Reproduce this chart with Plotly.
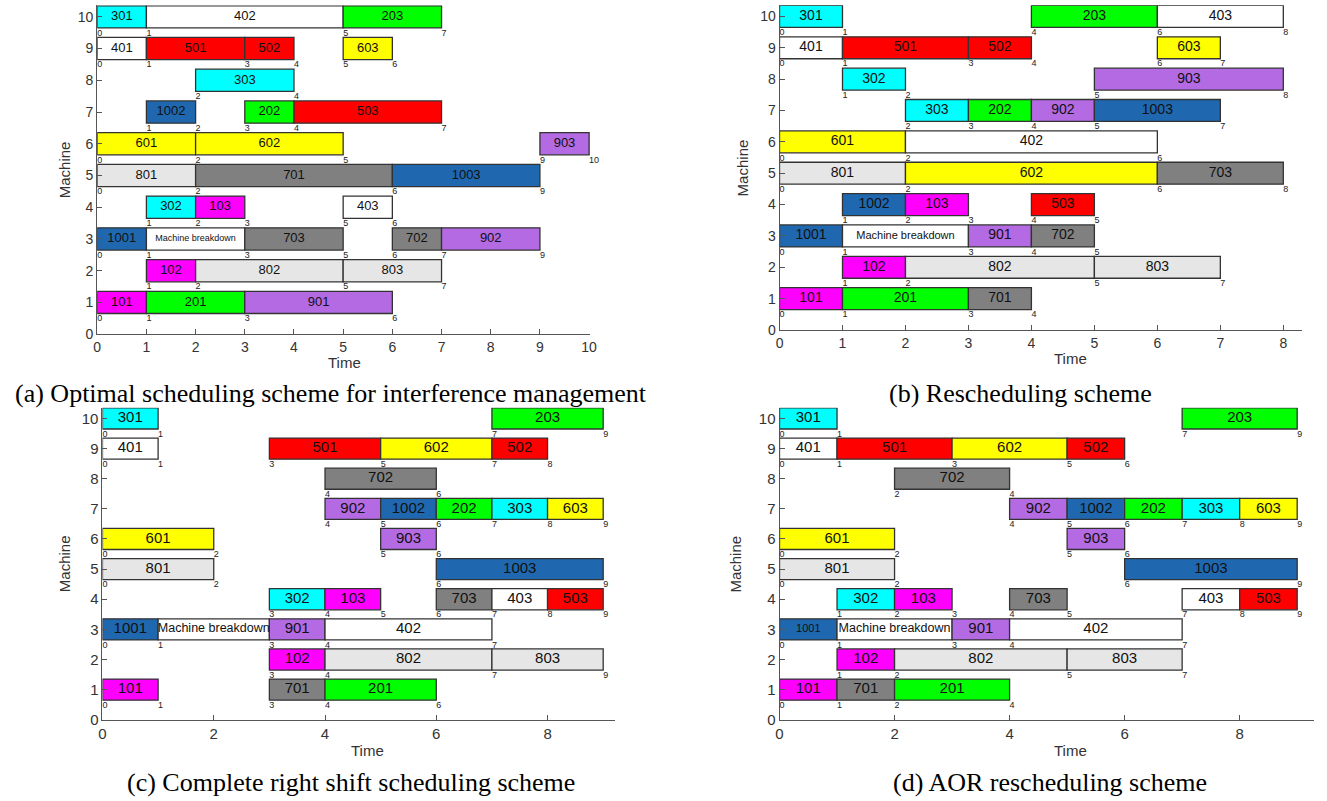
import plotly.graph_objects as go

# ---------------- data ----------------
# (a) Optimal scheduling scheme for interference management
a_machine = [10, 10, 10, 9, 9, 9, 9, 8, 7, 7, 7, 6, 6, 6, 5, 5, 5, 4, 4, 4, 3, 3, 3, 3, 3, 2, 2, 2, 1, 1, 1]
a_op = ["301", "402", "203", "401", "501", "502", "603", "303", "1002", "202", "503", "601", "602", "903",
        "801", "701", "1003", "302", "103", "403", "1001", "Machine breakdown", "703", "702", "902",
        "102", "802", "803", "101", "201", "901"]
a_start = [0, 1, 5, 0, 1, 3, 5, 2, 1, 3, 4, 0, 2, 9, 0, 2, 6, 1, 2, 5, 0, 1, 3, 6, 7, 1, 2, 5, 0, 1, 3]
a_end = [1, 5, 7, 1, 3, 4, 6, 4, 2, 4, 7, 2, 5, 10, 2, 6, 9, 2, 3, 6, 1, 3, 5, 7, 9, 2, 5, 7, 1, 3, 6]

# (b) Rescheduling scheme
b_machine = [10, 10, 10, 9, 9, 9, 9, 8, 8, 7, 7, 7, 7, 6, 6, 5, 5, 5, 4, 4, 4, 3, 3, 3, 3, 2, 2, 2, 1, 1, 1]
b_op = ["301", "203", "403", "401", "501", "502", "603", "302", "903", "303", "202", "902", "1003",
        "601", "402", "801", "602", "703", "1002", "103", "503", "1001", "Machine breakdown", "901", "702",
        "102", "802", "803", "101", "201", "701"]
b_start = [0, 4, 6, 0, 1, 3, 6, 1, 5, 2, 3, 4, 5, 0, 2, 0, 2, 6, 1, 2, 4, 0, 1, 3, 4, 1, 2, 5, 0, 1, 3]
b_end = [1, 6, 8, 1, 3, 4, 7, 2, 8, 3, 4, 5, 7, 2, 6, 2, 6, 8, 2, 3, 5, 1, 3, 4, 5, 2, 5, 7, 1, 3, 4]

# (c) Complete right shift scheduling scheme
c_machine = [10, 10, 9, 9, 9, 9, 8, 7, 7, 7, 7, 7, 6, 6, 5, 5, 4, 4, 4, 4, 4, 3, 3, 3, 3, 2, 2, 2, 1, 1, 1]
c_op = ["301", "203", "401", "501", "602", "502", "702", "902", "1002", "202", "303", "603",
        "601", "903", "801", "1003", "302", "103", "703", "403", "503",
        "1001", "Machine breakdown", "901", "402", "102", "802", "803", "101", "701", "201"]
c_start = [0, 7, 0, 3, 5, 7, 4, 4, 5, 6, 7, 8, 0, 5, 0, 6, 3, 4, 6, 7, 8, 0, 1, 3, 4, 3, 4, 7, 0, 3, 4]
c_end = [1, 9, 1, 5, 7, 8, 6, 5, 6, 7, 8, 9, 2, 6, 2, 9, 4, 5, 7, 8, 9, 1, 3, 4, 7, 4, 7, 9, 1, 4, 6]

# (d) AOR rescheduling scheme
d_machine = [10, 10, 9, 9, 9, 9, 8, 7, 7, 7, 7, 7, 6, 6, 5, 5, 4, 4, 4, 4, 4, 3, 3, 3, 3, 2, 2, 2, 1, 1, 1]
d_op = ["301", "203", "401", "501", "602", "502", "702", "902", "1002", "202", "303", "603",
        "601", "903", "801", "1003", "302", "103", "703", "403", "503",
        "1001", "Machine breakdown", "901", "402", "102", "802", "803", "101", "701", "201"]
d_start = [0, 7, 0, 1, 3, 5, 2, 4, 5, 6, 7, 8, 0, 5, 0, 6, 1, 2, 4, 7, 8, 0, 1, 3, 4, 1, 2, 5, 0, 1, 2]
d_end = [1, 9, 1, 3, 5, 6, 4, 5, 6, 7, 8, 9, 2, 6, 2, 9, 2, 3, 5, 8, 9, 1, 3, 4, 7, 2, 5, 7, 1, 2, 4]

captions = ["(a) Optimal scheduling scheme for interference management",
            "(b) Rescheduling scheme",
            "(c) Complete right shift scheduling scheme",
            "(d) AOR rescheduling scheme"]

# ---------------- style ----------------
W, H = 1327, 801
job_colors = {
    "1": "#FF00FF", "2": "#00FF00", "3": "#00FFFF", "4": "#FFFFFF", "5": "#FF0000",
    "6": "#FFFF00", "7": "#808080", "8": "#E6E6E6", "9": "#B36AE2", "10": "#1F68B0",
}
SANS = "Liberation Sans, Arial, sans-serif"
SERIF = "Liberation Serif, Times New Roman, serif"
AX = "#555555"
TXT = "#333333"

panels = [
    dict(x0=94, xs=49.6, xmax=10.02, y0=337.5, ys=32.05, step=1, f=13, fb=9, tf=14,
         timexy=(343, 366), machx=61, cap=(330, 397)),
    dict(x0=782, xs=63.5, xmax=8.3, y0=333.3, ys=31.67, step=1, f=14, fb=11, tf=14,
         timexy=(1075, 362), machx=745, cap=(1025, 397)),
    dict(x0=99.3, xs=56.1, xmax=9.22, y0=727, ys=30.43, step=2, f=15, fb=12.5, tf=15,
         timexy=(367, 758), machx=61, cap=(350, 790)),
    dict(x0=782, xs=58.0, xmax=9.3, y0=727, ys=30.43, step=2, f=15, fb=12.5, tf=15,
         timexy=(1075, 758), machx=738, cap=(1055, 790)),
]
YMAX = 10.36
BH = 0.7

datasets = [
    (a_machine, a_op, a_start, a_end),
    (b_machine, b_op, b_start, b_end),
    (c_machine, c_op, c_start, c_end),
    (d_machine, d_op, d_start, d_end),
]

fig = go.Figure()
layout = dict(width=W, height=H, margin=dict(l=0, r=0, t=0, b=0),
              paper_bgcolor="white", plot_bgcolor="white", showlegend=False,
              barmode="overlay", annotations=[])


def color_of(op):
    if op == "Machine breakdown":
        return "#FFFFFF"
    return job_colors[op[:-2]]


for i, (p, (mach, ops, st, en)) in enumerate(zip(panels, datasets)):
    k = "" if i == 0 else str(i + 1)
    xa, ya = "x" + k, "y" + k
    dur = [e - s for s, e in zip(st, en)]
    fig.add_trace(go.Bar(
        orientation="h", y=mach, x=dur, base=st, width=BH,
        marker=dict(color=[color_of(o) for o in ops], line=dict(color="#333333", width=1.3)),
        xaxis=xa, yaxis=ya, hoverinfo="skip"))
    sizes = []
    for o in ops:
        if o == "Machine breakdown":
            sizes.append(p["fb"])
        elif i == 3 and o == "1001":
            sizes.append(11)
        else:
            sizes.append(p["f"])
    fig.add_trace(go.Scatter(
        x=[(s + e) / 2 for s, e in zip(st, en)], y=mach, text=ops, mode="text",
        textposition="middle center",
        textfont=dict(family=SANS, size=sizes, color="#111111"),
        xaxis=xa, yaxis=ya, hoverinfo="skip"))
    pts = []
    for m, s, e in zip(mach, st, en):
        for t in (s, e):
            if (m, t) not in pts:
                pts.append((m, t))
    fig.add_trace(go.Scatter(
        x=[t for m, t in pts], y=[m - BH / 2 - 0.03 for m, t in pts],
        text=[str(t) for m, t in pts], mode="text", textposition="bottom right",
        textfont=dict(family=SANS, size=9, color="#222222"),
        xaxis=xa, yaxis=ya, hoverinfo="skip", cliponaxis=False))

    x_end = p["x0"] + p["xmax"] * p["xs"]
    y_top = p["y0"] - YMAX * p["ys"]
    ax_common = dict(showgrid=False, zeroline=False, showline=True, linecolor=AX, linewidth=1,
                     ticks="inside", ticklen=5, tickcolor=AX,
                     tickfont=dict(family=SANS, size=p["tf"], color=TXT))
    layout["xaxis" + k] = dict(domain=[p["x0"] / W, min(x_end / W, 1.0)], range=[0, p["xmax"]],
                               tickvals=list(range(0, int(p["xmax"]) + 1, p["step"])),
                               anchor=ya, **ax_common)
    layout["yaxis" + k] = dict(domain=[1 - p["y0"] / H, 1 - y_top / H], range=[0, YMAX],
                               tickvals=list(range(0, 11)), anchor=xa, **ax_common)
    layout["annotations"].append(dict(
        x=p["timexy"][0] / W, y=1 - p["timexy"][1] / H, xref="paper", yref="paper",
        xanchor="center", yanchor="middle",
        text="Time", showarrow=False, font=dict(family=SANS, size=15, color=TXT)))
    layout["annotations"].append(dict(
        x=p["machx"] / W, y=1 - ((p["y0"] + y_top) / 2) / H, xref="paper", yref="paper",
        xanchor="center", yanchor="middle",
        text="Machine", textangle=-90, showarrow=False, font=dict(family=SANS, size=15, color=TXT)))
    layout["annotations"].append(dict(
        x=p["cap"][0] / W, y=1 - p["cap"][1] / H, xref="paper", yref="paper",
        xanchor="center", yanchor="middle",
        text=captions[i], showarrow=False, font=dict(family=SERIF, size=26, color="black")))

fig.update_layout(**layout)
fig.write_html("out.html", config={"displayModeBar": False},
               post_script="document.body.style.margin='0px';document.body.style.overflow='hidden';")
